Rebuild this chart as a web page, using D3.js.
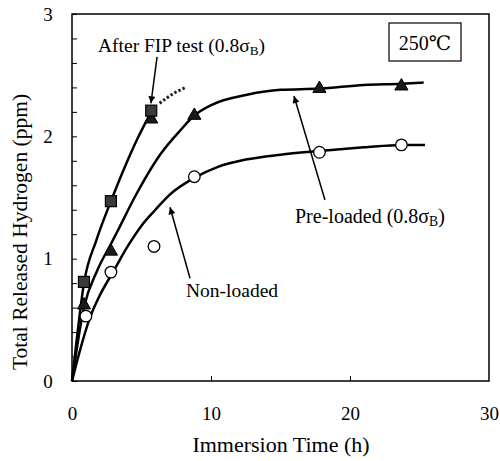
<!DOCTYPE html>
<html><head><meta charset="utf-8">
<script src="https://cdn.jsdelivr.net/npm/d3@7"></script>
<style>body{margin:0;background:#fff}svg{display:block}svg text{font-family:"Liberation Serif",Tinos,"Times New Roman",Times,"DejaVu Serif",serif !important;fill:#000}</style>
</head><body><svg id="c" width="500" height="461"></svg>
<script>
// ---- data (hours, ppm) ----
const xTicks = [0, 10, 20, 30];
const yTicks = [0, 1, 2, 3];
const fipPoints = [[0.86, 0.81], [2.8, 1.47], [5.7, 2.21]];
const prePoints = [[0.86, 0.62], [2.8, 1.06], [5.7, 2.14], [8.8, 2.17], [17.8, 2.39], [23.7, 2.41]];
const nonPoints = [[1.0, 0.53], [2.8, 0.89], [5.9, 1.10], [8.8, 1.67], [17.8, 1.87], [23.7, 1.93]];
const fipCurve = [[0, 0], [0.3, 0.3], [0.86, 0.8], [1.75, 1.15], [2.8, 1.47], [3.8, 1.75], [4.75, 1.99], [5.7, 2.2]];
const fipDotted = [[6.3, 2.27], [7.3, 2.35], [8.2, 2.40]];
const preCurve = [[0, 0], [0.86, 0.6], [1.8, 0.9], [2.8, 1.12], [3.3, 1.23], [4.5, 1.5], [6.4, 1.86], [7.8, 2.05], [8.8, 2.17], [10.1, 2.26], [12.6, 2.34], [15, 2.38], [17.8, 2.39], [21, 2.42], [23.7, 2.43], [25.3, 2.44]];
const nonCurve = [[0, 0], [0.5, 0.22], [1.3, 0.52], [2, 0.7], [3, 0.9], [4, 1.1], [5, 1.27], [6, 1.4], [7, 1.52], [8.8, 1.66], [10.5, 1.75], [12.5, 1.81], [15, 1.85], [17.8, 1.88], [21, 1.91], [23.7, 1.93], [25.4, 1.93]];
const arrows = [
  {from: [6.12, 2.65], to: [5.68, 2.27]},
  {from: [18.2, 1.48], to: [15.97, 2.33]},
  {from: [8.49, 0.84], to: [7.05, 1.42]}
];

const FONT = '"Liberation Serif", Tinos, "Times New Roman", Times, "DejaVu Serif", serif';
const svg = d3.select("#c");
const x = d3.scaleLinear().domain([0, 30]).range([72, 489]);
const y = d3.scaleLinear().domain([0, 3]).range([381, 14]);

// frame
svg.append("rect").attr("x", x(0)).attr("y", y(3)).attr("width", x(30) - x(0)).attr("height", y(0) - y(3))
  .attr("fill", "none").attr("stroke", "#000").attr("stroke-width", 1.5);

// y axis ticks (inward) with minor ticks
const yAxis = d3.axisRight(y).tickValues(d3.range(0, 3.01, 0.2)).tickSize(5).tickFormat("");
svg.append("g").attr("transform", `translate(${x(0)},0)`).call(yAxis)
  .call(g => g.select(".domain").remove()).selectAll("line").attr("stroke", "#000").attr("stroke-width", 1);
const yLab = d3.axisLeft(y).tickValues(yTicks).tickSize(0).tickPadding(24).tickFormat(d3.format("d"));
svg.append("g").attr("transform", `translate(${x(0)},0)`).call(yLab)
  .attr("font-family", FONT)
  .call(g => g.select(".domain").remove())
  .selectAll("text").attr("font-size", 19).attr("text-anchor", "middle").attr("dx", 0);

// x axis ticks (inward)
const xAxis = d3.axisTop(x).tickValues([10, 20]).tickSize(5).tickFormat("");
svg.append("g").attr("transform", `translate(0,${y(0)})`).call(xAxis)
  .call(g => g.select(".domain").remove()).selectAll("line").attr("stroke", "#000");
const xLab = d3.axisBottom(x).tickValues(xTicks).tickSize(0).tickPadding(26).tickFormat(d3.format("d"));
svg.append("g").attr("transform", `translate(0,${y(0)})`).call(xLab)
  .attr("font-family", FONT)
  .call(g => g.select(".domain").remove())
  .selectAll("text").attr("font-size", 19);

// curves
const line = d3.line().x(d => x(d[0])).y(d => y(d[1])).curve(d3.curveMonotoneX);
[fipCurve, preCurve, nonCurve].forEach(c =>
  svg.append("path").attr("d", line(c)).attr("fill", "none").attr("stroke", "#000").attr("stroke-width", 2.5));
svg.append("path").attr("d", line(fipDotted)).attr("fill", "none").attr("stroke", "#222")
  .attr("stroke-width", 3).attr("stroke-dasharray", "2.5,2");

// markers
svg.selectAll(".tri").data(prePoints).join("path").attr("class", "tri")
  .attr("d", d3.symbol(d3.symbolTriangle, 75))
  .attr("transform", d => `translate(${x(d[0])},${y(d[1])})`)
  .attr("fill", "#1a1a1a").attr("stroke", "#000").attr("stroke-width", 1);
svg.selectAll(".sq").data(fipPoints).join("rect").attr("class", "sq")
  .attr("x", d => x(d[0]) - 5.5).attr("y", d => y(d[1]) - 5.5).attr("width", 11).attr("height", 11)
  .attr("fill", "#3a3a3a").attr("stroke", "#000").attr("stroke-width", 1.2);
svg.selectAll(".ci").data(nonPoints).join("circle").attr("class", "ci")
  .attr("cx", d => x(d[0])).attr("cy", d => y(d[1])).attr("r", 5.8)
  .attr("fill", "#fff").attr("stroke", "#000").attr("stroke-width", 1.3);

// arrows
svg.append("defs").append("marker").attr("id", "ah").attr("viewBox", "0 0 10 10")
  .attr("refX", 10).attr("refY", 5).attr("markerWidth", 10).attr("markerHeight", 7)
  .attr("markerUnits", "userSpaceOnUse").attr("orient", "auto")
  .append("path").attr("d", "M0,0 L10,5 L0,10 Z").attr("fill", "#000");
svg.selectAll(".arr").data(arrows).join("line").attr("class", "arr")
  .attr("x1", d => x(d.from[0])).attr("y1", d => y(d.from[1]))
  .attr("x2", d => x(d.to[0])).attr("y2", d => y(d.to[1]))
  .attr("stroke", "#000").attr("stroke-width", 1.5).attr("marker-end", "url(#ah)");

// labels
function sigmaLabel(px, py, pre, fs) {
  const t = svg.append("text").attr("x", px).attr("y", py).attr("font-size", fs).attr("font-family", FONT);
  t.append("tspan").text(pre + "(0.8σ");
  t.append("tspan").attr("font-size", fs * 0.68).attr("dy", 3).text("B");
  t.append("tspan").attr("dy", -3).text(")");
}
sigmaLabel(98, 52, "After FIP test ", 19.5);
sigmaLabel(295, 223, "Pre-loaded ", 20);
svg.append("text").attr("x", 186).attr("y", 297).attr("font-size", 19.5).attr("font-family", FONT).text("Non-loaded");

svg.append("rect").attr("x", 389).attr("y", 23).attr("width", 72).attr("height", 38)
  .attr("fill", "none").attr("stroke", "#000").attr("stroke-width", 1.2);
svg.append("text").attr("x", 425).attr("y", 50).attr("text-anchor", "middle").attr("font-size", 20).attr("font-family", FONT).text("250℃");

svg.append("text").attr("x", 281).attr("y", 452).attr("text-anchor", "middle").attr("font-size", 22).attr("font-family", FONT).text("Immersion Time (h)");
svg.append("text").attr("transform", "translate(27,232) rotate(-90)").attr("text-anchor", "middle")
  .attr("font-size", 21.5).attr("font-family", FONT).text("Total Released Hydrogen (ppm)");
</script></body></html>
